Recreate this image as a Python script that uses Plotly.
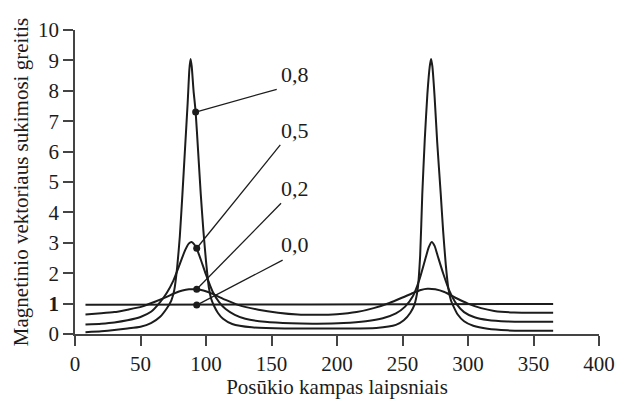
import plotly.graph_objects as go

# ---- data ----
x_k08 = [8, 20, 30, 40, 50, 58, 65, 70, 73.5, 75.8, 78, 80, 82, 84, 86, 87.3, 88.2, 89.1, 90.5, 92.1, 94, 96, 98, 100, 102.3, 104, 106.1, 109, 113, 120, 135, 160, 200, 230, 245,
         251, 256, 259, 261.5, 263.5, 265.1, 267, 269, 270.8, 271.8, 272.8, 274.5, 276.5, 279.2, 281, 283, 285, 287, 289, 292, 297, 304, 315, 330, 345, 365]
y_k08 = [0.06, 0.09, 0.13, 0.18, 0.24, 0.36, 0.57, 0.84, 1.1, 1.45, 2.2, 3.2, 4.6, 6.1, 7.6, 8.7, 9.05, 8.8, 8.0, 7.3, 6.0, 4.6, 3.4, 2.4, 1.5, 1.15, 0.93, 0.7, 0.5, 0.33, 0.22, 0.18, 0.18, 0.2, 0.3,
         0.45, 0.7, 0.95, 1.45, 2.6, 4.6, 6.4, 7.9, 8.8, 9.05, 8.8, 7.8, 6.3, 4.6, 3.4, 2.3, 1.5, 1.1, 0.9, 0.65, 0.42, 0.27, 0.17, 0.12, 0.11, 0.11]

x_k05 = [8, 20, 30, 40, 50, 58, 65, 70, 75, 80, 84, 87, 89, 91, 93, 96, 100, 105, 110, 115, 122, 130, 145, 165, 185, 205, 222, 235,
         245, 252, 258, 263, 267, 270, 272.3, 274.5, 277, 281, 286, 291, 297, 305, 315, 330, 345, 365]
y_k05 = [0.31, 0.34, 0.38, 0.45, 0.56, 0.73, 1.05, 1.35, 1.75, 2.3, 2.75, 2.98, 3.03, 2.95, 2.8, 2.45, 1.95, 1.4, 1.05, 0.82, 0.63, 0.5, 0.4, 0.35, 0.34, 0.36, 0.42, 0.52,
         0.68, 0.9, 1.25, 1.8, 2.4, 2.85, 3.03, 2.9, 2.55, 2.0, 1.4, 1.0, 0.72, 0.55, 0.46, 0.41, 0.4, 0.4]

x_k02 = [8, 20, 30, 40, 51, 61, 70, 76, 82, 87, 93, 98, 105, 115, 125, 140, 155, 170, 185, 200, 215, 228, 240, 250, 258, 264, 269, 275, 282, 290, 300, 310, 320, 335, 365]
y_k02 = [0.64, 0.68, 0.72, 0.8, 0.9, 1.06, 1.22, 1.34, 1.43, 1.47, 1.47, 1.43, 1.32, 1.12, 0.95, 0.8, 0.7, 0.64, 0.63, 0.65, 0.72, 0.85, 1.02, 1.2, 1.35, 1.45, 1.49, 1.47, 1.38, 1.2, 1.0, 0.85, 0.76, 0.71, 0.7]

x_k00 = [8, 180, 365]
y_k00 = [0.96, 0.97, 0.99]

labels = ["0,8", "0,5", "0,2", "0,0"]
marker_x = [92.1, 92.9, 92.9, 92.9]
marker_y = [7.3, 2.82, 1.47, 0.95]
leader_end_x = [154, 156.7, 157.3, 158.5]
leader_end_y = [8.05, 6.22, 4.3, 2.43]
label_x = [168.3, 168.3, 168.3, 168.3]
label_y = [8.52, 6.71, 4.79, 2.93]

x_ticks = [0, 50, 100, 150, 200, 250, 300, 350, 400]
y_ticks = [0, 1, 2, 3, 4, 5, 6, 7, 8, 9, 10]
y_ticktext = ["0", "<b>1</b>", "2", "3", "4", "5", "6", "7", "8", "9", "10"]

FONT = "Liberation Serif"
INK = "#1c1c1c"

fig = go.Figure()
for xs, ys in [(x_k00, y_k00), (x_k02, y_k02), (x_k05, y_k05), (x_k08, y_k08)]:
    fig.add_trace(go.Scatter(x=xs, y=ys, mode="lines",
                             line=dict(color=INK, width=2, shape="spline", smoothing=0.5),
                             showlegend=False, hoverinfo="skip"))

for i in range(len(labels)):
    fig.add_trace(go.Scatter(x=[marker_x[i], leader_end_x[i]], y=[marker_y[i], leader_end_y[i]],
                             mode="lines", line=dict(color=INK, width=1.3),
                             showlegend=False, hoverinfo="skip"))
    fig.add_annotation(x=label_x[i], y=label_y[i], text=labels[i], showarrow=False,
                       font=dict(family=FONT, size=22, color=INK), xanchor="center", yanchor="middle")

fig.add_trace(go.Scatter(x=marker_x, y=marker_y, mode="markers",
                         marker=dict(color=INK, size=7), showlegend=False, hoverinfo="skip"))

axis_common = dict(showline=True, linecolor="#444", linewidth=1.5, ticks="outside", ticklen=10,
                   tickcolor="#444", tickwidth=1.5, showgrid=False, zeroline=False, automargin=False,
                   tickfont=dict(family=FONT, size=21, color=INK))

# the page body adds an 8px offset, so the figure is 8px smaller and the margins compensate
fig.update_layout(
    width=619, height=391,
    margin=dict(l=67, r=28, t=22, b=65),
    paper_bgcolor="white", plot_bgcolor="white",
    font=dict(family=FONT, size=20, color=INK),
    xaxis=dict(range=[0, 400], tickvals=x_ticks,
               title=dict(text="Posūkio kampas laipsniais", font=dict(family=FONT, size=21, color=INK), standoff=4),
               **axis_common),
    yaxis=dict(range=[0, 10], tickvals=y_ticks, ticktext=y_ticktext,
               title=dict(text="Magnetinio vektoriaus sukimosi greitis", font=dict(family=FONT, size=21, color=INK), standoff=4),
               **axis_common),
)

fig.write_html("out.html")
